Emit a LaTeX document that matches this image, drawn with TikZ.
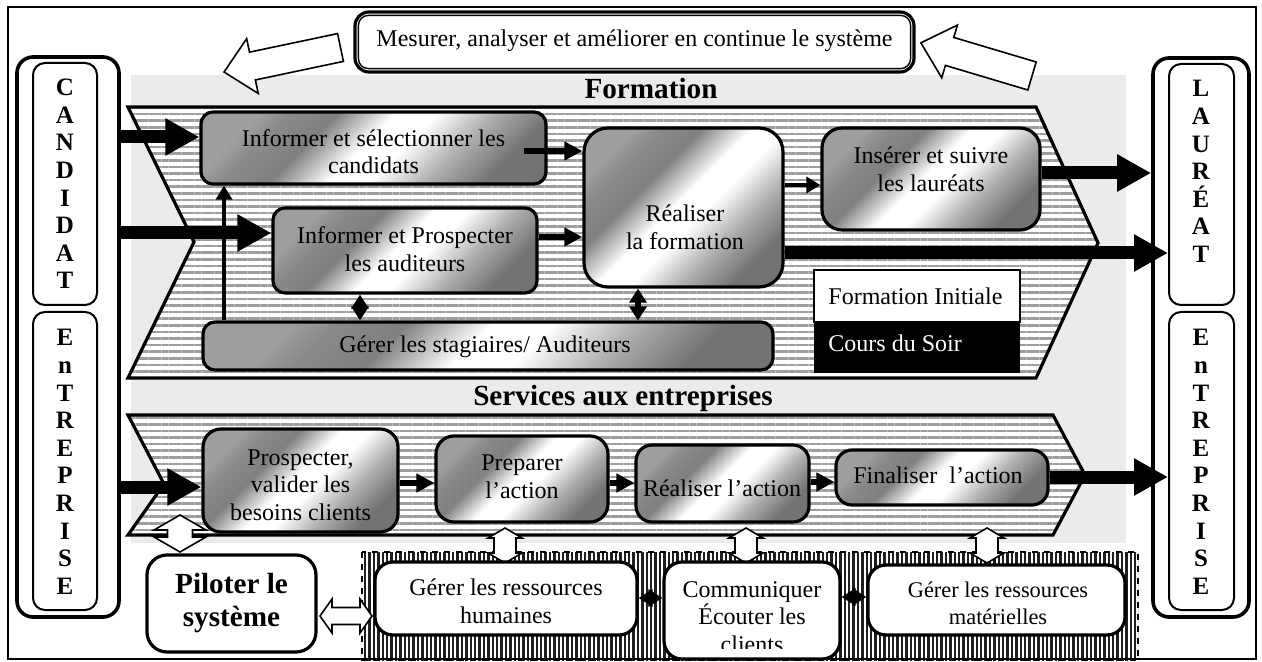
\documentclass[tikz,border=0pt]{standalone}
\usepackage{fontspec}
\setmainfont{Liberation Serif}
\usetikzlibrary{arrows.meta,patterns.meta,calc}
\pgfdeclareverticalshading{wgrad}{100bp}{color(0bp)=(black!55); color(25bp)=(black!55); color(35bp)=(black!32); color(45bp)=(white); color(52bp)=(white); color(62bp)=(black!50); color(70bp)=(black!46); color(75bp)=(black!38); color(100bp)=(black!38)}
\newcommand{\hollowV}[6]{\draw[hollow] (#1,#2) -- (#1+#5,#2+#6) -- (#1+#4,#2+#6) -- (#1+#4,#3-#6) -- (#1+#5,#3-#6) -- (#1,#3) -- (#1-#5,#3-#6) -- (#1-#4,#3-#6) -- (#1-#4,#2+#6) -- (#1-#5,#2+#6) -- cycle;}
\newcommand{\hollowH}[6]{\draw[hollow] (#2,#1) -- (#2+#6,#1-#5) -- (#2+#6,#1-#4) -- (#3-#6,#1-#4) -- (#3-#6,#1-#5) -- (#3,#1) -- (#3-#6,#1+#5) -- (#3-#6,#1+#4) -- (#2+#6,#1+#4) -- (#2+#6,#1+#5) -- cycle;}
\begin{document}
\begin{tikzpicture}[x=0.5pt,y=-0.5pt,
  sz/.style 2 args={minimum width=#1*0.5pt,minimum height=#2*0.5pt},
  gbox/.style={draw,line width=1.6pt,rounded corners=6pt,inner sep=0pt,shade,shading=wgrad,shading angle=45},
  wbox/.style={draw,line width=1.6pt,rounded corners=6pt,inner sep=0pt,fill=white},
  txt/.style={align=center,inner sep=0pt,font=\fontsize{12}{13.8}\selectfont},
  btxt/.style={align=center,inner sep=0pt,font=\fontsize{14.6}{16.5}\selectfont\bfseries},
  letters/.style={align=center,inner sep=0pt,font=\fontsize{12.5}{13.8}\selectfont\bfseries},
  col/.style={draw,line width=1.8pt,rounded corners=8pt,inner sep=0pt,fill=white},
  colin/.style={draw,line width=1pt,rounded corners=6pt,inner sep=0pt},
  bigarrow/.style={line width=6.5pt,-{Triangle[length=17pt,width=17.5pt]}},
  smallarrow/.style={line width=3pt,-{Triangle[length=9pt,width=9pt]}},
  thinarrow/.style={line width=1.8pt,-{Triangle[length=7pt,width=8pt]}},
  dblarrow/.style={line width=3pt,{Triangle[length=7pt,width=8.5pt]}-{Triangle[length=7pt,width=8.5pt]}},
  hollow/.style={draw,line width=0.8pt,fill=white,line join=miter},
  stripes/.style={draw,line width=1.6pt,preaction={fill=white},pattern={Lines[angle=0,distance=3.3pt,line width=1.3pt]},pattern color=black!38},
  hatch/.style={draw,dashed,line width=0.8pt,preaction={fill=white},pattern={Lines[angle=90,distance=2.2pt,line width=1.25pt]},pattern color=black!88}]
\useasboundingbox (0,0) rectangle (1262,662);
\fill[white] (0,0) rectangle (1262,662);
% grey background
\fill[black!8] (131,75) rectangle (1126,543);
% chevrons
\draw[stripes] (128,107) -- (1036,107) -- (1098,243) -- (1036,378) -- (128,378) -- (194,242) -- cycle;
\draw[stripes] (128,415) -- (1053,415) -- (1085,475) -- (1053,535) -- (128,535) -- (164,484) -- cycle;
\node[btxt] (tform) at (651,89) {Formation};
\node[btxt] (tserv) at (623,398) {Services aux entreprises};
% hatched support area
\draw[hatch] (362,552) rectangle (1138,660);
% side columns
\node[col,sz={102}{560}] (lco) at (68,337) {};
\node[colin,sz={64}{242}] (lci1) at (65,184) {};
\node[colin,sz={64}{298}] (lci2) at (65,461) {};
\node[letters] (lt1) at (65,184) {C\\A\\N\\D\\I\\D\\A\\T};
\node[letters] (lt2) at (65,462) {E\\n\\T\\R\\E\\P\\R\\I\\S\\E};
\node[col,sz={96}{559}] (rco) at (1201,337.5) {};
\node[colin,sz={65}{241}] (rci1) at (1201.5,184.5) {};
\node[colin,sz={65}{298}] (rci2) at (1201.5,461) {};
\node[letters] (rt1) at (1201,171.5) {L\\A\\U\\R\\É\\A\\T};
\node[letters] (rt2) at (1201,462) {E\\n\\T\\R\\E\\P\\R\\I\\S\\E};
% top box
\node[draw,line width=1.6pt,rounded corners=7pt,fill=white,sz={559}{60}] (top) at (634.5,42) {};
\draw[line width=0.7pt,rounded corners=5pt] ($(top.north west)+(5,5)$) rectangle ($(top.south east)+(-5,-5)$);
\node[txt] (ttop) at (634.5,41) {Mesurer, analyser et améliorer en continue le système};
% top hollow arrows
\begin{scope}[shift={(340.5,47.5)},rotate=191.9]
\draw[hollow] (0,-14.2) -- (90,-14.2) -- (90,-28) -- (119,0) -- (90,28) -- (90,14.2) -- (0,14.2) -- cycle;
\end{scope}
\begin{scope}[shift={(1032,76)},rotate=163.4]
\draw[hollow] (0,-14.6) -- (86,-14.6) -- (86,-27.5) -- (116,0) -- (86,27.5) -- (86,14.6) -- (0,14.6) -- cycle;
\end{scope}
% Formation boxes
\node[gbox,sz={345}{72}] (bA) at (373.5,148) {};
\node[gbox,sz={264}{85}] (bB) at (405,250.5) {};
\node[gbox,sz={199}{159},rounded corners=12pt] (bR) at (683.5,207.5) {};
\node[gbox,sz={218}{102},rounded corners=10pt] (bI) at (931,179) {};
\node[gbox,sz={570}{48}] (bG) at (488,346) {};
\node[txt] (tA) at (373.5,151.5) {Informer et sélectionner les\\candidats};
\node[txt] (tB) at (405,249) {Informer et Prospecter\\les auditeurs};
\node[txt] (tR) at (685,227) {Réaliser\\la formation};
\node[txt] (tI) at (931,169) {Insérer et suivre\\les lauréats};
\node[txt] (tG) at (485,347) {Gérer les stagiaires/ Auditeurs};
% legend
\node[draw,line width=0.8pt,fill=white,sz={206}{52}] (lg1) at (917,296) {};
\node[fill=black,sz={206}{51}] (lg2) at (917,347.5) {};
\node[txt,anchor=west] (tlg1) at (828,296) {Formation Initiale};
\node[txt,anchor=west,text=white] (tlg2) at (828,343) {Cours du Soir};
% Services boxes
\node[gbox,sz={195}{103},rounded corners=9pt] (bP) at (300.5,480.5) {};
\node[gbox,sz={172}{86},rounded corners=9pt] (bQ) at (522,479) {};
\node[gbox,sz={173}{77},rounded corners=8pt] (bS) at (722.5,483.5) {};
\node[gbox,sz={212}{55},rounded corners=8pt] (bF) at (942,477.5) {};
\node[txt] (tP) at (300.5,485) {Prospecter,\\valider les\\besoins clients};
\node[txt] (tQ) at (522,476.5) {Preparer\\l’action};
\node[txt] (tS) at (722,488) {Réaliser l’action};
\node[txt] (tF) at (938,475) {Finaliser\ \ l’action};
% hollow connectors
\hollowV{180}{515}{552}{12.5}{26}{15}
\hollowV{505}{528}{563}{11}{17}{10}
\hollowV{746}{528}{563}{11}{17}{10}
\hollowV{987}{528}{563}{11}{17}{10}
\hollowH{616}{320}{372}{8.5}{17}{12}
% bottom boxes
\node[wbox,sz={169}{97},rounded corners=10pt] (bPil) at (231.5,603.5) {};
\node[btxt] (tPil) at (231.5,603.5) {Piloter le\\système};
\node[wbox,sz={262}{73},rounded corners=9pt] (bRH) at (506,598.5) {};
\node[txt] (tRH) at (506,601) {Gérer les ressources\\humaines};
\node[wbox,sz={176}{97},rounded corners=9pt] (bCom) at (752,610.5) {};
\begin{scope}
\clip (0,0) rectangle (1262,648);
\node[txt] (tCom) at (752,617) {Communiquer\\Écouter les\\clients};
\end{scope}
\node[wbox,sz={257}{70},rounded corners=9pt] (bMat) at (996.5,600) {};
\node[txt,font=\fontsize{11.2}{13.4}\selectfont] (tMat) at (998,603) {Gérer les ressources\\matérielles};
% big arrows
\draw[bigarrow] (lco.east |- 0,137) -- (bA.west |- 0,137);
\draw[bigarrow] (lco.east |- 0,233) -- (bB.west |- 0,233);
\draw[bigarrow] (bI.east |- 0,173) -- (rco.west |- 0,173);
\draw[bigarrow] (bR.east |- 0,253) -- (rci1.west |- 0,253);
\draw[bigarrow] (lco.east |- 0,487) -- (bP.west |- 0,487);
\draw[bigarrow] (bF.east |- 0,477) -- (rci2.west |- 0,477);
% small arrows
\draw[smallarrow] ($(bA.east |- 0,151)+(-24,0)$) -- (bR.west |- 0,151);
\draw[smallarrow] (bB.east |- 0,237) -- (bR.west |- 0,237);
\draw[thinarrow] (bR.east |- 0,185) -- (bI.west |- 0,185);
\draw[thinarrow,line width=2.4pt] (bG.north -| 224,0) -- (bA.south -| 224,0);
\draw[dblarrow] (bB.south -| 360,0) -- (bG.north -| 360,0);
\draw[dblarrow] (bR.south -| 638,0) -- (bG.north -| 638,0);
\draw[smallarrow] (bP.east |- 0,483) -- (bQ.west |- 0,483);
\draw[smallarrow] (bQ.east |- 0,483) -- (bS.west |- 0,483);
\draw[smallarrow] (bS.east |- 0,482) -- (bF.west |- 0,482);
\draw[dblarrow] (bRH.east |- 0,598) -- (bCom.west |- 0,598);
\draw[dblarrow] (bCom.east |- 0,597) -- (bMat.west |- 0,597);
% outer frame
\draw[line width=1pt] (8,7) rectangle (1256,659);
\end{tikzpicture}
\end{document}
